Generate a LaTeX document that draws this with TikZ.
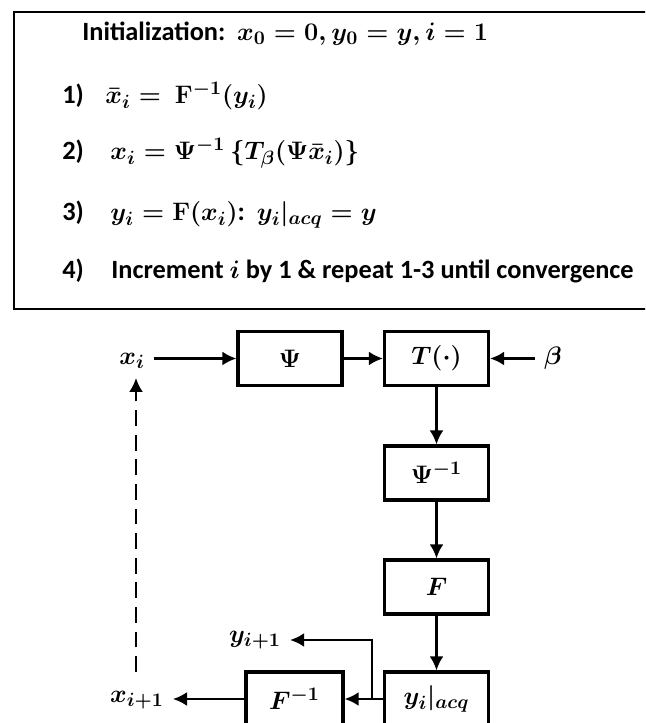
\documentclass[tikz,border=0pt]{standalone}
\usepackage{amsmath,amssymb}
\usepackage{fontspec}
\setmainfont{Carlito}
\usetikzlibrary{arrows.meta,positioning}

\tikzset{
  blk/.style={draw, line width=1.8pt, minimum width=2.08cm, minimum height=1.08cm,
    inner sep=0pt, font=\fontsize{15}{17}\selectfont\boldmath},
  lbl/.style={inner sep=5pt, font=\fontsize{15}{17}\selectfont\boldmath},
  flow/.style={line width=1.5pt, -{Latex[length=8pt,width=8pt]}},
  algtxt/.style={anchor=base west, inner sep=0pt,
    font=\fontsize{15}{18}\selectfont\bfseries\boldmath}
}

\begin{document}
\begin{tikzpicture}
\useasboundingbox (0,0) rectangle (12.9,14.46);
\clip (0,0) rectangle (12.9,14.46);

% Algorithm box (open on the right)
\draw[line width=1.3pt] (13.2,14.22) -- (0.28,14.22) -- (0.28,8.28) -- (13.2,8.28);

\node[algtxt] (linit) at (1.64,13.64) {Initialization:\ \ $x_0 = 0, y_0 = y, i = 1$};
\node[algtxt] (lone) at (1.24,12.38) {\makebox[0.86cm][l]{1)}$\bar{x}_i = \ \mathbf{F}^{-1}(y_i)$};
\node[algtxt] (ltwo) at (1.24,11.26) {\makebox[0.96cm][l]{2)}$x_i = \Psi^{-1}\,\{T_\beta(\Psi\bar{x}_i)\}$};
\node[algtxt] (lthree) at (1.24,10.04) {\makebox[0.96cm][l]{3)}$y_i = \mathbf{F}(x_i)$:\ \ $y_i|_{acq} = y$};
\node[algtxt] (lfour) at (1.24,8.88) {\makebox[0.98cm][l]{4)}Increment $i$ by 1 \& repeat 1-3 until convergence};

% Blocks
\node[blk] (psi) at (5.8,7.29) {$\Psi$};
\node[blk] (tb) at (8.73,7.29) {$T(\cdot)$};
\node[blk] (psiinv) at (8.73,5.0) {$\Psi^{-1}$};
\node[blk] (fwd) at (8.73,2.72) {$F$};
\node[blk] (acq) at (8.73,0.48) {$y_i|_{acq}$};
\node[blk, minimum width=1.94cm] (finv) at (5.89,0.48) {$F^{-1}$};

% Signals
\node[lbl] (xi) at (2.64,7.24) {$x_i$};
\node[lbl] (beta) at (11.06,7.29) {$\beta$};
\node[lbl] (ynext) at (5.1,1.66) {$y_{i+1}$};
\node[lbl] (xnext) at (2.74,0.46) {$x_{i+1}$};
\coordinate (split) at (7.44,0.48);
\coordinate (loopend) at (2.72,1.02);

% Connections
\draw[flow] (xi.east |- psi.west) -- (psi.west);
\draw[flow] (psi) -- (tb);
\draw[flow] (beta.west |- tb.east) -- (tb.east);
\draw[flow] (tb) -- (psiinv);
\draw[flow] (psiinv) -- (fwd);
\draw[flow] (fwd) -- (acq);
\draw[flow] (acq) -- (finv);
\draw[flow] (split) |- (ynext);
\draw[flow] (finv.west) -- (xnext.east |- finv.west);
\draw[flow, dash pattern=on 9pt off 5pt] (loopend) -- (xi.south -| loopend);

\end{tikzpicture}
\end{document}
